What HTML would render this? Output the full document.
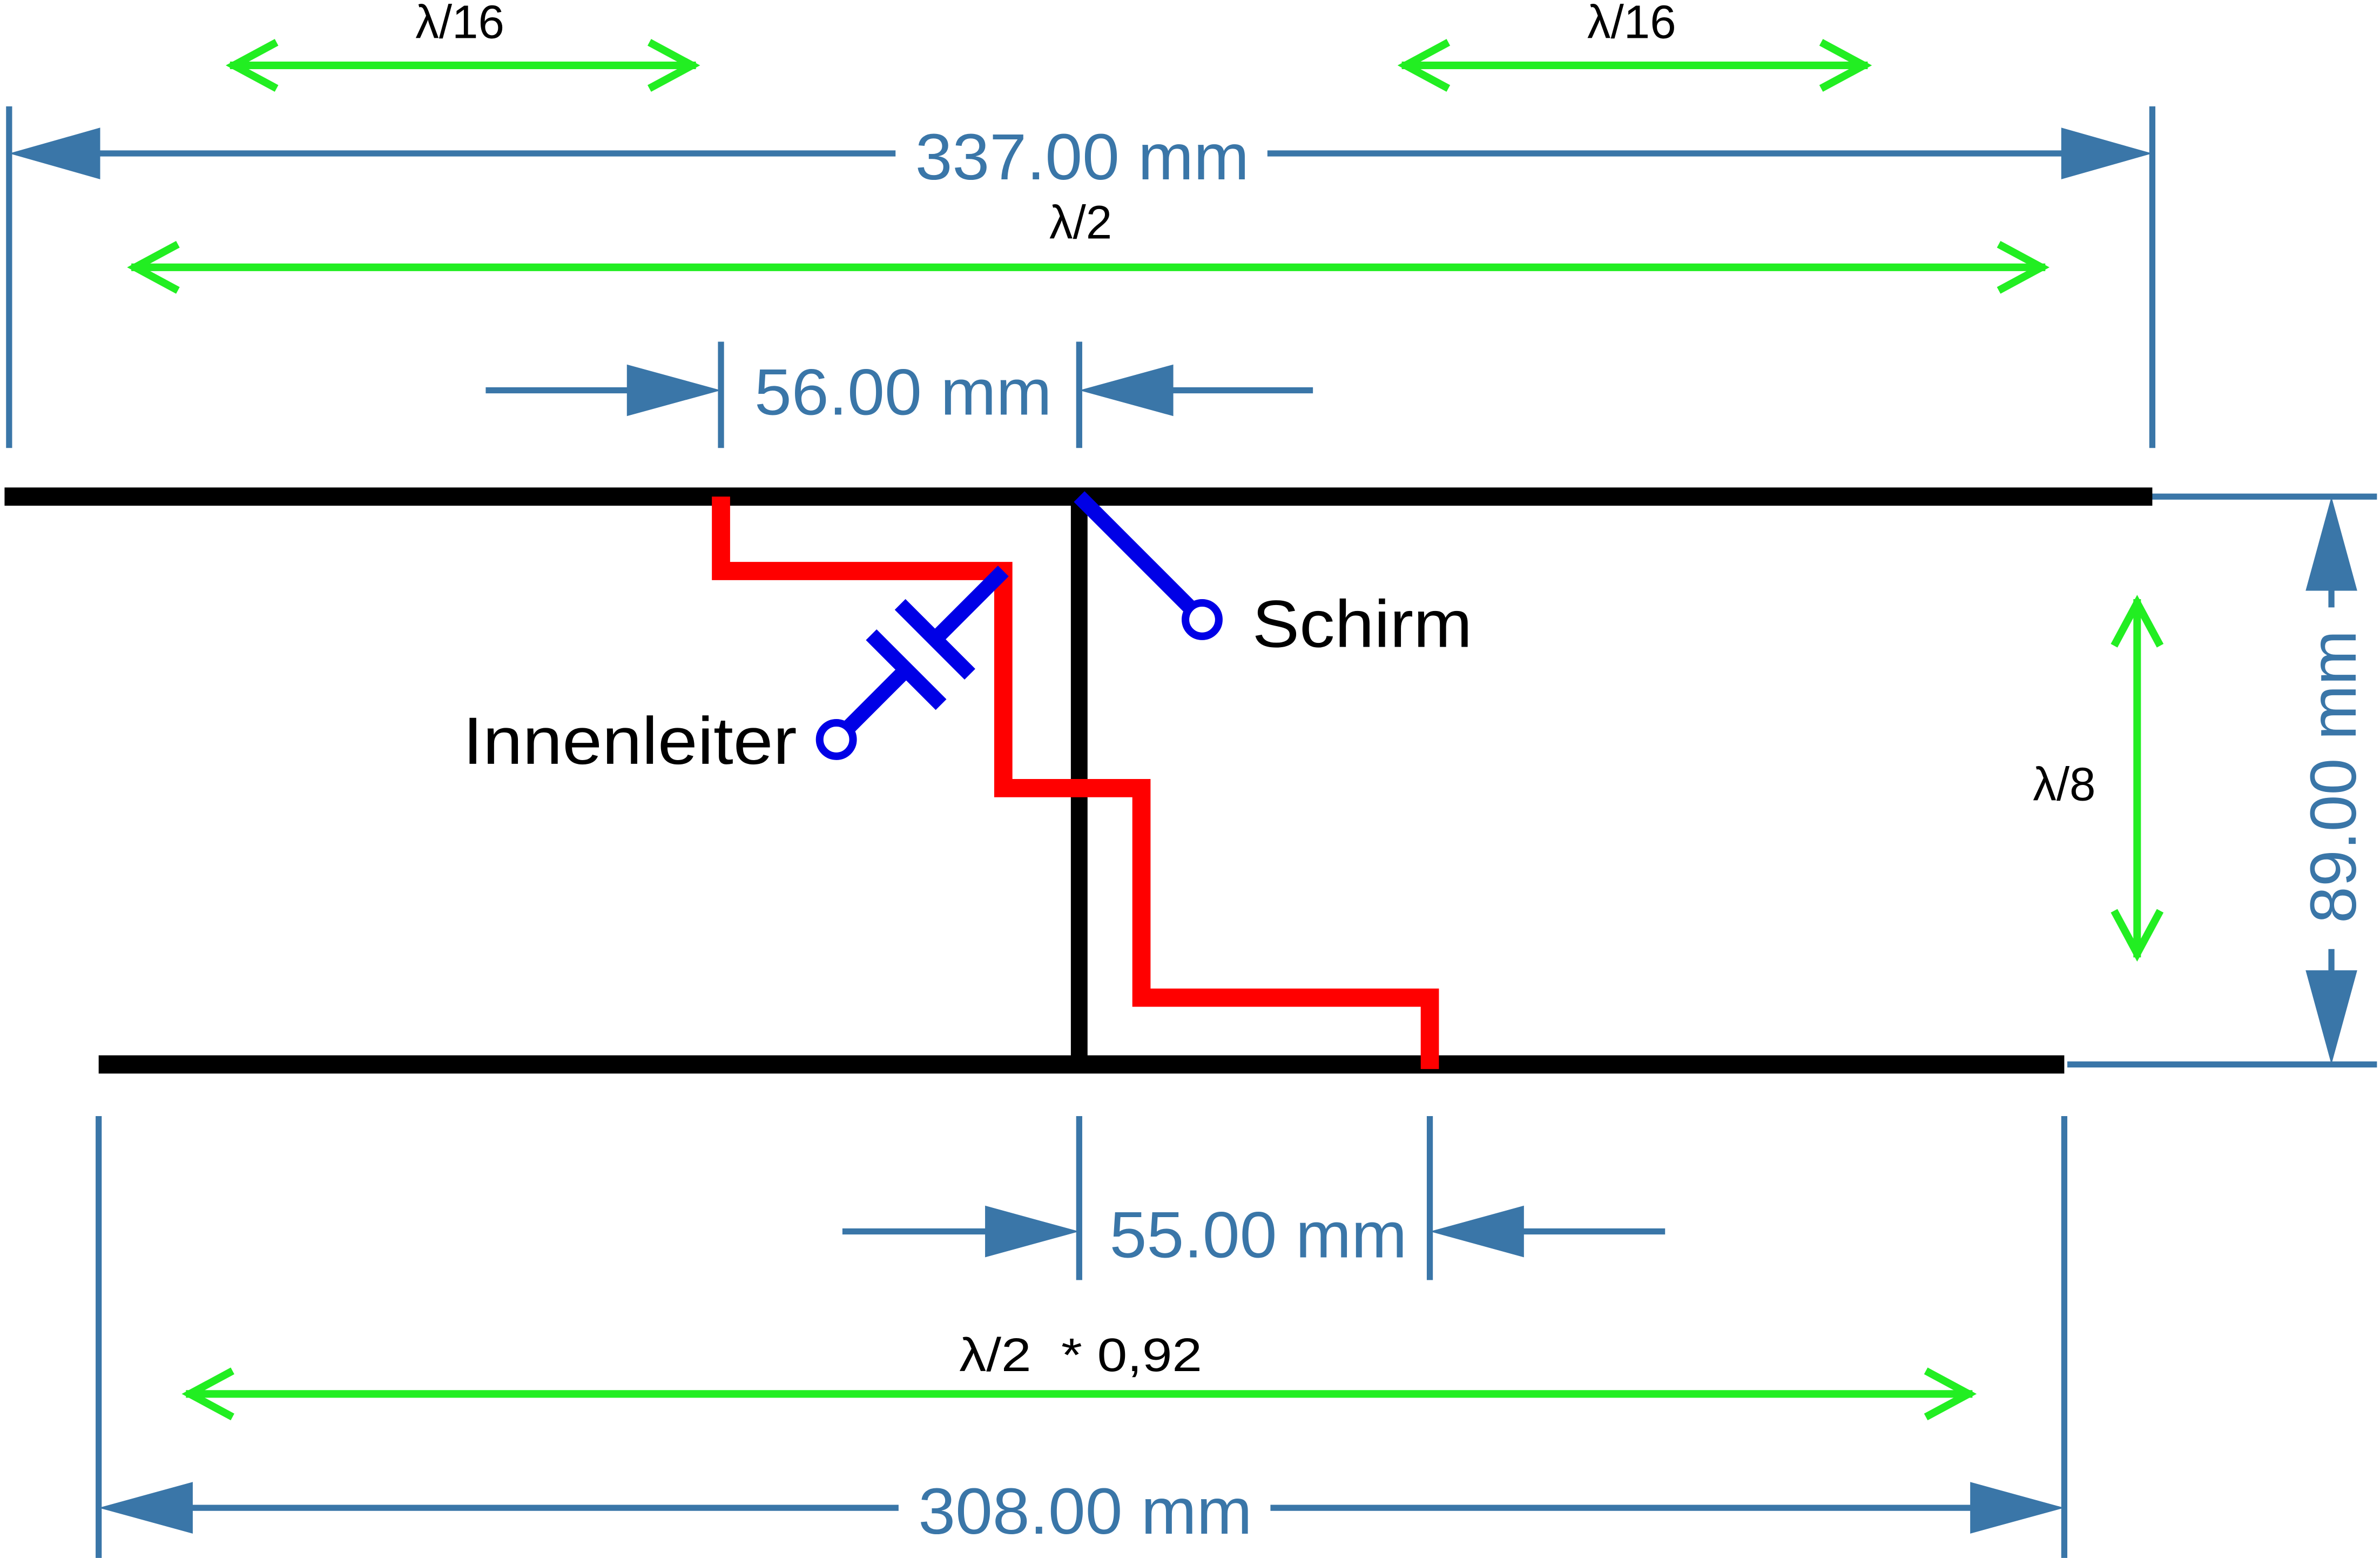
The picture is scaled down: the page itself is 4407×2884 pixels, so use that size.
<!DOCTYPE html>
<html><head><meta charset="utf-8"><style>
html,body{margin:0;padding:0;background:#fff;}
svg{display:block;}
</style></head><body>
<svg width="4407" height="2884" viewBox="0 0 1568 1026" xmlns="http://www.w3.org/2000/svg">
<rect width="1568" height="1026" fill="#fff"/>
<g stroke="#3a76a8" stroke-width="4" fill="none">
  <line x1="6" y1="70" x2="6" y2="295"/>
  <line x1="1418" y1="70" x2="1418" y2="295"/>
  <line x1="60" y1="101" x2="590" y2="101"/>
  <line x1="835" y1="101" x2="1360" y2="101"/>
  <line x1="475" y1="225" x2="475" y2="295"/>
  <line x1="711" y1="225" x2="711" y2="295"/>
  <line x1="320" y1="257" x2="415" y2="257"/>
  <line x1="770" y1="257" x2="865" y2="257"/>
  <line x1="1362" y1="327" x2="1566" y2="327"/>
  <line x1="1362" y1="701" x2="1566" y2="701"/>
  <line x1="1536" y1="385" x2="1536" y2="400"/>
  <line x1="1536" y1="625" x2="1536" y2="645"/>
  <line x1="65" y1="735" x2="65" y2="1026"/>
  <line x1="1360" y1="735" x2="1360" y2="1026"/>
  <line x1="120" y1="993" x2="592" y2="993"/>
  <line x1="837" y1="993" x2="1300" y2="993"/>
  <line x1="711" y1="735" x2="711" y2="843"/>
  <line x1="942" y1="735" x2="942" y2="843"/>
  <line x1="555" y1="811" x2="650" y2="811"/>
  <line x1="1002" y1="811" x2="1097" y2="811"/>
</g>
<g fill="#3a76a8">
  <polygon points="6,101 66,84 66,118"/>
  <polygon points="1418,101 1358,84 1358,118"/>
  <polygon points="475,257 413,240 413,274"/>
  <polygon points="711,257 773,240 773,274"/>
  <polygon points="1536,327 1519,389 1553,389"/>
  <polygon points="1536,701 1519,639 1553,639"/>
  <polygon points="65,993 127,976 127,1010"/>
  <polygon points="1360,993 1298,976 1298,1010"/>
  <polygon points="711,811 649,794 649,828"/>
  <polygon points="942,811 1004,794 1004,828"/>
</g>
<g fill="#3a76a8" font-family="Liberation Sans, sans-serif" font-size="43">
  <text x="603" y="118" textLength="220" lengthAdjust="spacingAndGlyphs">337.00 mm</text>
  <text x="497" y="273" textLength="196" lengthAdjust="spacingAndGlyphs">56.00 mm</text>
  <text x="731" y="828" textLength="196" lengthAdjust="spacingAndGlyphs">55.00 mm</text>
  <text x="605" y="1010" textLength="220" lengthAdjust="spacingAndGlyphs">308.00 mm</text>
  <text x="-96" y="0" textLength="193" lengthAdjust="spacingAndGlyphs" transform="translate(1552,512) rotate(-90)">89.00 mm</text>
</g>
<g stroke="#22ee22" stroke-width="5" fill="none" stroke-linecap="square">
  <line x1="154" y1="43" x2="456" y2="43"/>
  <polyline points="180,29 154,43 180,57"/><polyline points="430,29 456,43 430,57"/>
  <line x1="926" y1="43" x2="1228" y2="43"/>
  <polyline points="952,29 926,43 952,57"/><polyline points="1202,29 1228,43 1202,57"/>
  <line x1="89" y1="176" x2="1345" y2="176"/>
  <polyline points="115,162 89,176 115,190"/><polyline points="1319,162 1345,176 1319,190"/>
  <line x1="1408" y1="397" x2="1408" y2="628"/>
  <polyline points="1394,423 1408,397 1422,423"/><polyline points="1394,602 1408,628 1422,602"/>
  <line x1="125" y1="918" x2="1297" y2="918"/>
  <polyline points="151,904 125,918 151,932"/><polyline points="1271,904 1297,918 1271,932"/>
</g>
<g fill="#000" font-family="Liberation Sans, sans-serif" font-size="31">
  <text x="303" y="25" text-anchor="middle">λ/16</text>
  <text x="1075" y="25" text-anchor="middle">λ/16</text>
  <text x="712" y="157" text-anchor="middle">λ/2</text>
  <text x="1360" y="527" text-anchor="middle">λ/8</text>
  <text x="632" y="903" textLength="160" lengthAdjust="spacingAndGlyphs">λ/2 &#160;* 0,92</text>
</g>
<g stroke="#000" fill="none">
  <line x1="3" y1="327" x2="1418" y2="327" stroke-width="12"/>
  <line x1="65" y1="701" x2="1360" y2="701" stroke-width="12"/>
  <line x1="711" y1="327" x2="711" y2="701" stroke-width="11"/>
</g>
<polyline points="475,327 475,376 661,376 661,519 752,519 752,657 942,657 942,704" stroke="#ff0000" stroke-width="12" fill="none"/>
<g stroke="#0000e6" fill="none">
  <line x1="711" y1="327" x2="784" y2="400" stroke-width="10"/>
  <circle cx="792" cy="408" r="11" stroke-width="5" fill="#fff"/>
  <line x1="661" y1="376" x2="616" y2="421" stroke-width="10"/>
  <line x1="597" y1="441" x2="559" y2="479" stroke-width="10"/>
  <line x1="593" y1="398" x2="639" y2="444" stroke-width="10"/>
  <line x1="574" y1="418" x2="620" y2="464" stroke-width="10"/>
  <circle cx="551" cy="487" r="11" stroke-width="5" fill="#fff"/>
</g>
<g fill="#000" font-family="Liberation Sans, sans-serif" font-size="44">
  <text x="825" y="426" textLength="145" lengthAdjust="spacingAndGlyphs">Schirm</text>
  <text x="305" y="503" textLength="220" lengthAdjust="spacingAndGlyphs">Innenleiter</text>
</g>
</svg>
</body></html>
